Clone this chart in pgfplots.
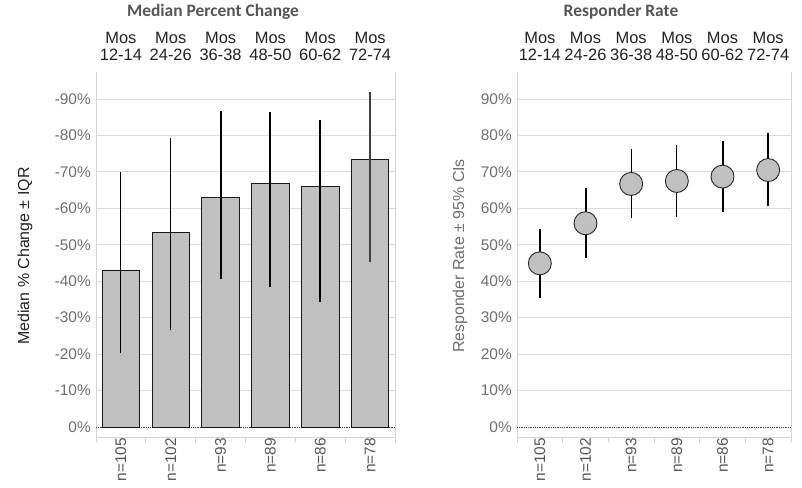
\documentclass[border=0pt]{standalone}
\usepackage{pgfplots}
\pgfplotsset{compat=1.18}
\usepackage{pgfplotstable}
\usepackage{fontspec}
\setmainfont{Liberation Sans}
\newfontfamily\titlefont{Carlito}
\definecolor{barfill}{HTML}{C0C0C0}
\definecolor{gridc}{HTML}{DCDCDC}
\definecolor{tickc}{HTML}{6E6E6E}
\definecolor{axc}{HTML}{D4D4D4}
\definecolor{titlec}{HTML}{555555}
\definecolor{topc}{HTML}{222222}

\pgfplotstableread{
x  y     lo    hi
0  43.1  20.3  70.0
1  53.5  26.6  79.4
2  63.0  40.5  86.7
3  66.9  38.3  86.4
4  66.1  34.4  84.2
5  73.3  45.4  92.0
}\medtab

\pgfplotstableread{
x  y     lo    hi
0  44.9  35.3  54.3
1  55.9  46.5  65.7
2  66.7  57.3  76.3
3  67.5  57.7  77.4
4  68.7  58.9  78.5
5  70.5  60.6  80.6
}\resptab

\tikzset{
  toplab/.style={anchor=south, align=center, yshift=8bp, text=topc, font=\fontsize{16.5}{17}\selectfont},
}
\pgfplotsset{
  panel/.style={
    anchor=south west, scale only axis, clip=false,
    height=365bp, xmin=-0.5, xmax=5.5, ymin=-2.74, ymax=97.4,
    axis x line*=bottom, axis y line*=box,
    axis line style={draw=axc, line width=0.8bp},
    ytick={10,20,...,90},
    extra y ticks={0},
    extra y tick style={grid style={densely dotted, draw=black!75, line width=0.8bp}},
    ymajorgrids, grid style={draw=gridc, line width=0.8bp},
    major tick length=0pt,
    xtick={0,...,5},
    minor xtick={-0.5,0.5,...,5.5},
    minor tick length=6bp,
    tick align=outside,
    minor tick style={draw=axc, line width=0.8bp},
    xticklabels={n=105,n=102,n=93,n=89,n=86,n=78},
    xticklabel style={rotate=90, anchor=east, inner sep=1bp, font=\fontsize{15.5}{17}\selectfont, text=titlec},
    yticklabel style={font=\fontsize{15.5}{18}\selectfont, text=tickc, inner sep=2bp, xshift=-3bp},
  },
}

\begin{document}
\begin{tikzpicture}
\path[use as bounding box] (0,0) rectangle (802bp,-488bp);

% ---- Left panel: Median Percent Change ----
\begin{axis}[panel, at={(96bp,-437bp)}, width=299bp,
  yticklabels={-10\%,-20\%,-30\%,-40\%,-50\%,-60\%,-70\%,-80\%,-90\%},
  extra y tick labels={0\%}]
\addplot[ybar, bar width=0.75, fill=barfill, draw=black!90, line width=0.8bp]
  table[x=x, y=y] {\medtab};
% IQR whiskers
\addplot[black, line width=1bp] coordinates {(0,20.3) (0,70.0)};
\addplot[black, line width=1bp] coordinates {(1,26.6) (1,79.4)};
\addplot[black, line width=2bp] coordinates {(2,40.5) (2,86.7)};
\addplot[black, line width=2bp] coordinates {(3,38.3) (3,86.4)};
\addplot[black, line width=2bp] coordinates {(4,34.4) (4,84.2)};
\addplot[black!75, line width=1.3bp] coordinates {(5,45.4) (5,92.0)};
\node[toplab] at (axis cs:0,97.4) {Mos\\12-14};
\node[toplab] at (axis cs:1,97.4) {Mos\\24-26};
\node[toplab] at (axis cs:2,97.4) {Mos\\36-38};
\node[toplab] at (axis cs:3,97.4) {Mos\\48-50};
\node[toplab] at (axis cs:4,97.4) {Mos\\60-62};
\node[toplab] at (axis cs:5,97.4) {Mos\\72-74};
\end{axis}

% ---- Right panel: Responder Rate ----
\begin{axis}[panel, at={(517bp,-437bp)}, width=274bp,
  yticklabels={10\%,20\%,30\%,40\%,50\%,60\%,70\%,80\%,90\%},
  extra y tick labels={0\%}]
\addplot[only marks, mark=*, mark size=11.5bp,
  mark options={fill=barfill, draw=black!85, line width=0.9bp}]
  table[x=x, y=y] {\resptab};
\addplot[black, line width=2bp] coordinates {(0,35.3) (0,54.3)};
\addplot[black, line width=2bp] coordinates {(1,46.5) (1,65.7)};
\addplot[black, line width=1.2bp] coordinates {(2,57.3) (2,76.3)};
\addplot[black, line width=1.2bp] coordinates {(3,57.7) (3,77.4)};
\addplot[black, line width=2bp] coordinates {(4,58.9) (4,78.5)};
\addplot[black, line width=2bp] coordinates {(5,60.6) (5,80.6)};
\node[toplab] at (axis cs:0,97.4) {Mos\\12-14};
\node[toplab] at (axis cs:1,97.4) {Mos\\24-26};
\node[toplab] at (axis cs:2,97.4) {Mos\\36-38};
\node[toplab] at (axis cs:3,97.4) {Mos\\48-50};
\node[toplab] at (axis cs:4,97.4) {Mos\\60-62};
\node[toplab] at (axis cs:5,97.4) {Mos\\72-74};
\end{axis}

% titles and axis labels
\node[text=titlec, font=\titlefont\bfseries\fontsize{17.5}{19}\selectfont] at (213bp,-12bp) {Median Percent Change};
\node[text=titlec, font=\titlefont\bfseries\fontsize{17.5}{19}\selectfont] at (621bp,-12bp) {Responder Rate};
\node[rotate=90, text=topc, font=\fontsize{16}{17}\selectfont] at (25bp,-256bp) {Median \% Change \textpm{} IQR};
\node[rotate=90, text=tickc, font=\fontsize{16}{17}\selectfont] at (460bp,-256bp) {Responder Rate \textpm{} 95\% CIs};
\end{tikzpicture}
\end{document}
